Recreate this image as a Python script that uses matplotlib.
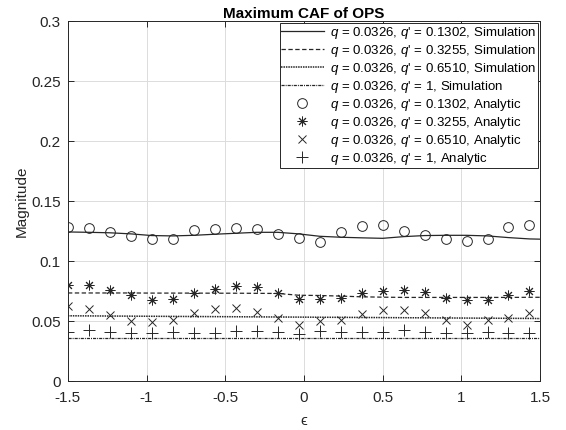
import numpy as np
import matplotlib
matplotlib.use("Agg")
import matplotlib.pyplot as plt

plt.rcParams['font.family'] = ['Liberation Sans', 'DejaVu Sans']
plt.rcParams['mathtext.fontset'] = 'custom'
plt.rcParams['mathtext.rm'] = 'Liberation Sans'
plt.rcParams['mathtext.it'] = 'Liberation Sans:italic'

# epsilon grid of the analytic evaluations
eps_analytic = [-1.5 + k * 2 / 15 for k in range(23)]
# epsilon grid of the simulated curves (same points plus the right end)
eps_sim = eps_analytic + [1.5]

q = "0.0326"
qp_labels = ["0.1302", "0.3255", "0.6510", "1"]

# Simulation results
sim_1302 = [0.1245, 0.1242, 0.1238, 0.1229, 0.1215, 0.1212, 0.1217, 0.1226,
            0.1234, 0.1242, 0.1242, 0.1229, 0.1209, 0.1201, 0.1196, 0.1192,
            0.1206, 0.1215, 0.1217, 0.1217, 0.1212, 0.1198, 0.1187, 0.1185]
sim_3255 = [0.0737, 0.0737, 0.0737, 0.0737, 0.0736, 0.0736, 0.0736, 0.0735,
            0.0735, 0.0734, 0.0733, 0.0718, 0.0716, 0.0711, 0.0705, 0.0702,
            0.0700, 0.0700, 0.0700, 0.0700, 0.0700, 0.0700, 0.0701, 0.0701]
sim_6510 = [0.0547, 0.0546, 0.0545, 0.0544, 0.0543, 0.0542, 0.0541, 0.0540,
            0.0539, 0.0538, 0.0537, 0.0536, 0.0535, 0.0534, 0.0533, 0.0532,
            0.0531, 0.0530, 0.0529, 0.0528, 0.0527, 0.0526, 0.0525, 0.0524]
sim_1 = [0.0361] * 24

# Analytic results
ana_1302 = [0.1289, 0.1281, 0.1248, 0.1212, 0.1184, 0.1187, 0.1262, 0.1273,
            0.1279, 0.1267, 0.1226, 0.1192, 0.1164, 0.1245, 0.1295, 0.1303,
            0.1254, 0.1223, 0.1187, 0.1171, 0.1187, 0.1287, 0.1306]
ana_3255 = [0.0800, 0.0800, 0.0765, 0.0723, 0.0676, 0.0684, 0.0736, 0.0770,
            0.0794, 0.0784, 0.0740, 0.0690, 0.0690, 0.0698, 0.0734, 0.0752,
            0.0759, 0.0742, 0.0698, 0.0682, 0.0676, 0.0723, 0.0756]
ana_6510 = [0.0629, 0.0601, 0.0554, 0.0502, 0.0493, 0.0512, 0.0568, 0.0604,
            0.0612, 0.0582, 0.0527, 0.0471, 0.0507, 0.0510, 0.0562, 0.0596,
            0.0599, 0.0568, 0.0516, 0.0474, 0.0510, 0.0532, 0.0571]
ana_1 = [0.0413, 0.0425, 0.0416, 0.0402, 0.0402, 0.0413, 0.0402, 0.0402,
         0.0419, 0.0421, 0.0410, 0.0396, 0.0419, 0.0410, 0.0410, 0.0413,
         0.0425, 0.0413, 0.0400, 0.0402, 0.0413, 0.0400, 0.0400]

fig = plt.figure(figsize=(5.66, 4.30), dpi=100)
ax = fig.add_axes([0.120, 0.1128, 0.834, 0.838])

ink = '#262626'
sim_series = [sim_1302, sim_3255, sim_6510, sim_1]
sim_styles = ['-', (0, (3.5, 2)), (0, (1, 0.6)), (0, (2.5, 0.8, 0.8, 0.8))]
sim_widths = [0.9, 0.9, 1.1, 0.9]
for vals, ls, lw, qp in zip(sim_series, sim_styles, sim_widths, qp_labels):
    ax.plot(eps_sim, vals, color=ink, linestyle=ls, linewidth=lw,
            label=f"$q$ = {q}, $q$' = {qp}, Simulation")

ana_series = [ana_1302, ana_3255, ana_6510, ana_1]
ana_markers = ['o', (8, 2, 0), 'x', '+']
ana_sizes = [7, 7, 6, 8]
for vals, mk, ms, qp in zip(ana_series, ana_markers, ana_sizes, qp_labels):
    ax.plot(eps_analytic, vals, linestyle='none', marker=mk, markersize=ms,
            markerfacecolor='none', markeredgecolor=ink, markeredgewidth=0.7,
            label=f"$q$ = {q}, $q$' = {qp}, Analytic")

ax.set_xlim(-1.5, 1.5)
ax.set_ylim(0, 0.3)
ax.set_xticks(np.arange(-1.5, 1.51, 0.5))
ax.set_xticklabels(['-1.5', '-1', '-0.5', '0', '0.5', '1', '1.5'])
ax.set_yticks(np.arange(0, 0.301, 0.05))
ax.set_yticklabels(['0', '0.05', '0.1', '0.15', '0.2', '0.25', '0.3'])
ax.grid(True, color='#dcdcdc', linewidth=0.7)
ax.set_axisbelow(True)
ax.tick_params(direction='in', top=True, right=True, length=4, width=0.7,
               labelsize=11, colors=ink)
ax.tick_params(axis='x', pad=7)
ax.tick_params(axis='y', pad=5)
for sp in ax.spines.values():
    sp.set_color(ink)
    sp.set_linewidth(0.7)

ax.set_title('Maximum CAF of OPS', fontsize=11, fontweight='bold', pad=2)
ax.set_ylabel('Magnitude', fontsize=11, color=ink, labelpad=2)
ax.set_xlabel('ϵ', fontsize=11, color=ink, labelpad=6)

leg = ax.legend(loc='upper right', fontsize=9.5, frameon=True, fancybox=False,
                edgecolor=ink, framealpha=1, handlelength=3.2, handletextpad=0.5,
                labelspacing=0.15, borderaxespad=0.15, borderpad=0.12)
leg.get_frame().set_linewidth(0.7)

fig.savefig('out.png', dpi=100)
